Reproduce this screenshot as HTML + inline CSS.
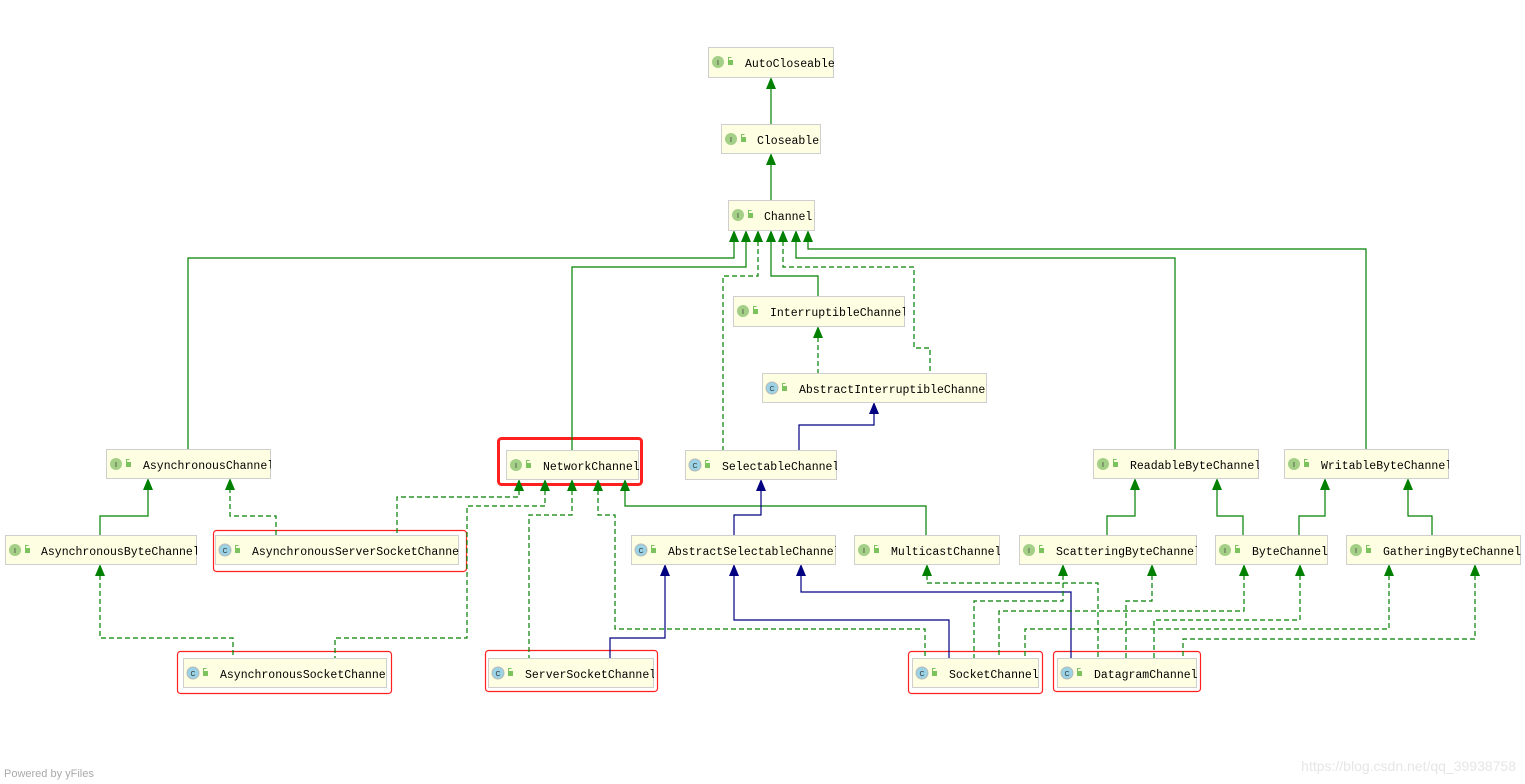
<!DOCTYPE html>
<html><head><meta charset="utf-8"><style>
html,body{margin:0;padding:0;background:#fff;}
svg{display:block;}
.t{font-family:"Liberation Mono",monospace;font-size:11.5px;fill:#000;}
.g{stroke:#008000;stroke-width:1.2;fill:none;}
.gd{stroke:#008000;stroke-width:1.2;fill:none;stroke-dasharray:5,3;}
.b{stroke:#000080;stroke-width:1.2;fill:none;}
.ag{fill:#008000;}
.ab{fill:#000080;}
.r{fill:none;stroke:#ff2020;stroke-width:1.2;}
</style></head><body>
<svg width="1525" height="784" viewBox="0 0 1525 784" xmlns="http://www.w3.org/2000/svg">
<defs>
<g id="ii"><circle cx="10" cy="15" r="6" fill="#a3cf87"/><text x="10" y="18" font-size="7" font-family="Liberation Sans,sans-serif" text-anchor="middle" fill="#333">I</text><rect x="20" y="13" width="5" height="5" fill="#7cc35e"/><path d="M20.5 13 v-2.5 h3" stroke="#7cc35e" fill="none"/></g>
<g id="ic"><circle cx="10" cy="15" r="6" fill="#9bd3e6" stroke="#b8b8b8" stroke-width="1"/><text x="10" y="18" font-size="7" font-family="Liberation Sans,sans-serif" text-anchor="middle" fill="#333">C</text><rect x="20" y="13" width="5" height="5" fill="#7cc35e"/><path d="M20.5 13 v-2.5 h3" stroke="#7cc35e" fill="none"/></g>
</defs>

<rect x="498.5" y="438.5" width="143" height="46" rx="3" fill="none" stroke="#ff2020" stroke-width="3"/>
<rect class="r" x="213.5" y="530.5" width="253" height="41" rx="3"/>
<rect class="r" x="177.5" y="651.5" width="214" height="42" rx="3"/>
<rect class="r" x="485.5" y="650.5" width="172" height="41" rx="3"/>
<rect class="r" x="908.5" y="651.5" width="134" height="42" rx="3"/>
<rect class="r" x="1053.5" y="651.5" width="147" height="40" rx="3"/>

<path class="g" d="M771 124 V88"/>
<path class="g" d="M771 200 V164"/>
<path class="g" d="M734 241 V258 H188 V449"/>
<path class="g" d="M746 241 V267 H572 V450"/>
<path class="gd" d="M758 241 V276 H723 V450"/>
<path class="g" d="M771 241 V276 H818 V296"/>
<path class="gd" d="M783 241 V267 H914 V348 H930 V373"/>
<path class="g" d="M796 241 V258 H1175 V449"/>
<path class="g" d="M808 241 V249 H1366 V449"/>
<path class="gd" d="M818 337 V373"/>
<path class="b" d="M799 450 V425 H874 V413"/>
<path class="g" d="M100 535 V516 H148 V489"/>
<path class="gd" d="M276 535 V516 H230 V489"/>
<path class="gd" d="M100 575 V638 H233 V658"/>
<path class="gd" d="M519 490 V497 H397 V535"/>
<path class="gd" d="M545 490 V506 H467 V638 H335 V658"/>
<path class="gd" d="M572 490 V515 H529 V658"/>
<path class="gd" d="M598 490 V515 H615 V629 H925 V658"/>
<path class="g" d="M625 490 V506 H926 V535"/>
<path class="b" d="M734 535 V515 H761 V490"/>
<path class="b" d="M665 575 V638 H610 V658"/>
<path class="b" d="M734 575 V620 H949 V658"/>
<path class="b" d="M801 575 V592 H1071 V658"/>
<path class="gd" d="M927 575 V583 H1098 V658"/>
<path class="g" d="M1107 535 V516 H1135 V489"/>
<path class="g" d="M1243 535 V516 H1217 V489"/>
<path class="g" d="M1299 535 V516 H1325 V489"/>
<path class="g" d="M1432 535 V516 H1408 V489"/>
<path class="gd" d="M1063 575 V601 H974 V658"/>
<path class="gd" d="M1152 575 V601 H1126 V658"/>
<path class="gd" d="M1244 575 V611 H999 V658"/>
<path class="gd" d="M1300 575 V620 H1154 V658"/>
<path class="gd" d="M1389 575 V629 H1025 V658"/>
<path class="gd" d="M1475 575 V639 H1183 V658"/>

<g class="ag">
<polygon points="771,77 766,89 776,89"/>
<polygon points="771,153 766,165 776,165"/>
<polygon points="734,230 729,242 739,242"/>
<polygon points="746,230 741,242 751,242"/>
<polygon points="758,230 753,242 763,242"/>
<polygon points="771,230 766,242 776,242"/>
<polygon points="783,230 778,242 788,242"/>
<polygon points="796,230 791,242 801,242"/>
<polygon points="808,230 803,242 813,242"/>
<polygon points="818,326 813,338 823,338"/>
<polygon points="148,478 143,490 153,490"/>
<polygon points="230,478 225,490 235,490"/>
<polygon points="519,479 514,491 524,491"/>
<polygon points="545,479 540,491 550,491"/>
<polygon points="572,479 567,491 577,491"/>
<polygon points="598,479 593,491 603,491"/>
<polygon points="625,479 620,491 630,491"/>
<polygon points="1135,478 1130,490 1140,490"/>
<polygon points="1217,478 1212,490 1222,490"/>
<polygon points="1325,478 1320,490 1330,490"/>
<polygon points="1408,478 1403,490 1413,490"/>
<polygon points="100,564 95,576 105,576"/>
<polygon points="927,564 922,576 932,576"/>
<polygon points="1063,564 1058,576 1068,576"/>
<polygon points="1152,564 1147,576 1157,576"/>
<polygon points="1244,564 1239,576 1249,576"/>
<polygon points="1300,564 1295,576 1305,576"/>
<polygon points="1389,564 1384,576 1394,576"/>
<polygon points="1475,564 1470,576 1480,576"/>
</g>
<g class="ab">
<polygon points="874,402 869,414 879,414"/>
<polygon points="761,479 756,491 766,491"/>
<polygon points="665,564 660,576 670,576"/>
<polygon points="734,564 729,576 739,576"/>
<polygon points="801,564 796,576 806,576"/>
</g>

<g stroke="none">
<svg x="708" y="47" width="126" height="31"><rect x="0.5" y="0.5" width="125" height="30" fill="#fefee2" stroke="#cfcfcf"/><use href="#ii"/><text class="t" x="37" y="20">AutoCloseable</text></svg>
<svg x="721" y="124" width="100" height="30"><rect x="0.5" y="0.5" width="99" height="29" fill="#fefee2" stroke="#cfcfcf"/><use href="#ii"/><text class="t" x="36" y="20">Closeable</text></svg>
<svg x="728" y="200" width="87" height="31"><rect x="0.5" y="0.5" width="86" height="30" fill="#fefee2" stroke="#cfcfcf"/><use href="#ii"/><text class="t" x="36" y="20">Channel</text></svg>
<svg x="733" y="296" width="172" height="31"><rect x="0.5" y="0.5" width="171" height="30" fill="#fefee2" stroke="#cfcfcf"/><use href="#ii"/><text class="t" x="37" y="20">InterruptibleChannel</text></svg>
<svg x="762" y="373" width="225" height="30"><rect x="0.5" y="0.5" width="224" height="29" fill="#fefee2" stroke="#cfcfcf"/><use href="#ic"/><text class="t" x="37" y="20">AbstractInterruptibleChannel</text></svg>

<svg x="106" y="449" width="165" height="30"><rect x="0.5" y="0.5" width="164" height="29" fill="#fefee2" stroke="#cfcfcf"/><use href="#ii"/><text class="t" x="37" y="20">AsynchronousChannel</text></svg>
<svg x="506" y="450" width="133" height="30"><rect x="0.5" y="0.5" width="132" height="29" fill="#fefee2" stroke="#cfcfcf"/><use href="#ii"/><text class="t" x="37" y="20">NetworkChannel</text></svg>
<svg x="685" y="450" width="152" height="30"><rect x="0.5" y="0.5" width="151" height="29" fill="#fefee2" stroke="#cfcfcf"/><use href="#ic"/><text class="t" x="37" y="20">SelectableChannel</text></svg>
<svg x="1093" y="449" width="166" height="30"><rect x="0.5" y="0.5" width="165" height="29" fill="#fefee2" stroke="#cfcfcf"/><use href="#ii"/><text class="t" x="37" y="20">ReadableByteChannel</text></svg>
<svg x="1284" y="449" width="165" height="30"><rect x="0.5" y="0.5" width="164" height="29" fill="#fefee2" stroke="#cfcfcf"/><use href="#ii"/><text class="t" x="37" y="20">WritableByteChannel</text></svg>

<svg x="5" y="535" width="192" height="30"><rect x="0.5" y="0.5" width="191" height="29" fill="#fefee2" stroke="#cfcfcf"/><use href="#ii"/><text class="t" x="36" y="20">AsynchronousByteChannel</text></svg>
<svg x="215" y="535" width="244" height="30"><rect x="0.5" y="0.5" width="243" height="29" fill="#fefee2" stroke="#cfcfcf"/><use href="#ic"/><text class="t" x="37" y="20">AsynchronousServerSocketChannel</text></svg>
<svg x="631" y="535" width="205" height="30"><rect x="0.5" y="0.5" width="204" height="29" fill="#fefee2" stroke="#cfcfcf"/><use href="#ic"/><text class="t" x="37" y="20">AbstractSelectableChannel</text></svg>
<svg x="854" y="535" width="146" height="30"><rect x="0.5" y="0.5" width="145" height="29" fill="#fefee2" stroke="#cfcfcf"/><use href="#ii"/><text class="t" x="37" y="20">MulticastChannel</text></svg>
<svg x="1019" y="535" width="178" height="30"><rect x="0.5" y="0.5" width="177" height="29" fill="#fefee2" stroke="#cfcfcf"/><use href="#ii"/><text class="t" x="37" y="20">ScatteringByteChannel</text></svg>
<svg x="1215" y="535" width="113" height="30"><rect x="0.5" y="0.5" width="112" height="29" fill="#fefee2" stroke="#cfcfcf"/><use href="#ii"/><text class="t" x="37" y="20">ByteChannel</text></svg>
<svg x="1346" y="535" width="175" height="30"><rect x="0.5" y="0.5" width="174" height="29" fill="#fefee2" stroke="#cfcfcf"/><use href="#ii"/><text class="t" x="37" y="20">GatheringByteChannel</text></svg>

<svg x="183" y="658" width="204" height="30"><rect x="0.5" y="0.5" width="203" height="29" fill="#fefee2" stroke="#cfcfcf"/><use href="#ic"/><text class="t" x="37" y="20">AsynchronousSocketChannel</text></svg>
<svg x="488" y="658" width="166" height="30"><rect x="0.5" y="0.5" width="165" height="29" fill="#fefee2" stroke="#cfcfcf"/><use href="#ic"/><text class="t" x="37" y="20">ServerSocketChannel</text></svg>
<svg x="912" y="658" width="127" height="30"><rect x="0.5" y="0.5" width="126" height="29" fill="#fefee2" stroke="#cfcfcf"/><use href="#ic"/><text class="t" x="37" y="20">SocketChannel</text></svg>
<svg x="1057" y="658" width="140" height="30"><rect x="0.5" y="0.5" width="139" height="29" fill="#fefee2" stroke="#cfcfcf"/><use href="#ic"/><text class="t" x="37" y="20">DatagramChannel</text></svg>
</g>

<text x="4" y="777" font-family="Liberation Sans,sans-serif" font-size="11" fill="#aaa">Powered by yFiles</text>
<text x="1516" y="771" font-family="Liberation Sans,sans-serif" font-size="14" fill="#e6e6e6" text-anchor="end">https://blog.csdn.net/qq_39938758</text>
</svg>
</body></html>
